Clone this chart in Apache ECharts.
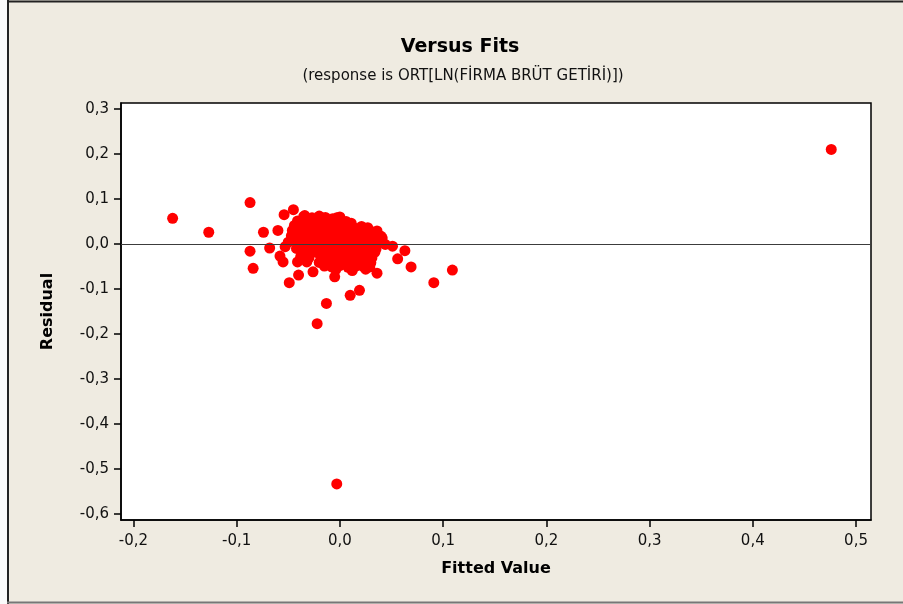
<!DOCTYPE html>
<html>
<head>
<meta charset="utf-8">
<script src="https://cdn.jsdelivr.net/npm/echarts@6/dist/echarts.min.js"></script>
<style>
  html, body { margin: 0; padding: 0; background: #ffffff; }
  #chart { width: 903px; height: 604px; }
</style>
</head>
<body>
<div id="chart"></div>
<script>
// Fitted values of the regression (x) and their residuals (y)
const fitted = [
  -0.162, -0.127, -0.087, -0.087, -0.084, -0.074, -0.068, -0.060, -0.058, -0.055,
  -0.053, -0.049, -0.040, -0.026, -0.022, -0.013, -0.005, 0.010, 0.019, 0.036,
  0.051, 0.063, 0.056, 0.069, 0.091, 0.109, -0.054, -0.045, -0.003, 0.476,
  0.039, -0.034, -0.003, 0.006, 0.027, 0.036, 0.041, -0.041, -0.047, -0.050,
  // dense cloud around zero
  -0.035, -0.027, -0.020, -0.014, -0.007, 0.000,
  -0.041, -0.031, -0.025, -0.017, -0.011, -0.002, 0.004, 0.011,
  -0.044, -0.037, -0.029, -0.021, -0.016, -0.008, -0.001, 0.007, 0.013, 0.021,
  -0.046, -0.039, -0.030, -0.024, -0.016, -0.011, -0.004, 0.005, 0.010, 0.018, 0.026, 0.031,
  -0.043, -0.035, -0.029, -0.021, -0.015, -0.007, -0.001, 0.006, 0.014, 0.019, 0.028, 0.033, 0.040,
  -0.045, -0.037, -0.032, -0.024, -0.018, -0.009, -0.003, 0.004, 0.012, 0.017, 0.025, 0.031, 0.038,
  -0.040, -0.033, -0.026, -0.019, -0.012, -0.006, 0.002, 0.009, 0.016, 0.023, 0.030, 0.036, 0.044,
  -0.042, -0.035, -0.027, -0.021, -0.014, -0.007, 0.001, 0.008, 0.014, 0.021, 0.028, 0.035,
  -0.036, -0.029, -0.022, -0.015, -0.009, -0.001, 0.006, 0.013, 0.020, 0.027, 0.034,
  -0.038, -0.030, -0.018, -0.011, -0.004, 0.003, 0.010, 0.017, 0.024, 0.031,
  -0.032, -0.020, -0.012, -0.005, 0.002, 0.009, 0.016, 0.023, 0.030,
  -0.015, -0.008, 0.000, 0.008, 0.015, 0.022, 0.029,
  -0.004, 0.012, 0.025
];
const residual = [
  0.057, 0.026, 0.092, -0.016, -0.054, 0.026, -0.009, 0.030, -0.027, -0.040,
  -0.006, -0.086, -0.069, -0.062, -0.177, -0.132, -0.073, -0.114, -0.103, -0.065,
  -0.005, -0.015, -0.033, -0.051, -0.086, -0.058, 0.065, 0.076, -0.533, 0.210,
  0.016, 0.063, 0.058, 0.050, 0.036, 0.029, 0.013, -0.040, 0.018, 0.004,
  0.061, 0.058, 0.062, 0.059, 0.056, 0.060,
  0.051, 0.049, 0.053, 0.050, 0.047, 0.052, 0.048, 0.046,
  0.041, 0.039, 0.042, 0.040, 0.043, 0.038, 0.041, 0.040, 0.037, 0.039,
  0.030, 0.032, 0.029, 0.031, 0.028, 0.030, 0.033, 0.029, 0.031, 0.028, 0.030, 0.027,
  0.021, 0.019, 0.022, 0.020, 0.018, 0.021, 0.019, 0.022, 0.020, 0.018, 0.021, 0.019, 0.017,
  0.010, 0.011, 0.009, 0.012, 0.010, 0.008, 0.011, 0.009, 0.012, 0.010, 0.008, 0.011, 0.009,
  0.001, -0.001, 0.002, 0.000, -0.002, 0.001, 0.000, -0.001, 0.002, 0.000, -0.002, 0.001, -0.001,
  -0.010, -0.012, -0.009, -0.011, -0.010, -0.008, -0.011, -0.009, -0.012, -0.010, -0.008, -0.011,
  -0.020, -0.022, -0.019, -0.021, -0.018, -0.020, -0.022, -0.019, -0.021, -0.020, -0.018,
  -0.029, -0.031, -0.030, -0.028, -0.032, -0.029, -0.031, -0.030, -0.028, -0.031,
  -0.040, -0.041, -0.038, -0.042, -0.039, -0.041, -0.040, -0.038, -0.042,
  -0.049, -0.051, -0.048, -0.052, -0.050, -0.049, -0.051,
  -0.057, -0.059, -0.056
];
const xTicks = [-0.2, -0.1, 0.0, 0.1, 0.2, 0.3, 0.4, 0.5];
const yTicks = [-0.6, -0.5, -0.4, -0.3, -0.2, -0.1, 0.0, 0.1, 0.2, 0.3];

const points = fitted.map((x, i) => [x, residual[i]]);
const fmt = v => (Math.abs(v) < 1e-9 ? 0 : v).toFixed(1).replace('.', ',');
const FONT = 'DejaVu Sans';

const chart = echarts.init(document.getElementById('chart'), null, { renderer: 'canvas' });
chart.setOption({
  backgroundColor: '#efebe1',
  animation: false,
  title: [
    {
      text: 'Versus Fits',
      left: 455, top: 33, textAlign: 'center',
      textStyle: { fontFamily: FONT, fontSize: 19, fontWeight: 'bold', color: '#000' }
    },
    {
      text: '(response is ORT[LN(FİRMA BRÜT GETİRİ)])',
      left: 458, top: 64, textAlign: 'center',
      textStyle: { fontFamily: FONT, fontSize: 15, fontWeight: 'normal', color: '#111' }
    }
  ],
  grid: {
    left: 121, right: 32, top: 103, bottom: 84,
    show: true, backgroundColor: '#ffffff',
    borderColor: '#000', borderWidth: 1.5
  },
  xAxis: {
    type: 'value', min: -0.212, max: 0.5145,
    name: 'Fitted Value', nameLocation: 'middle', nameGap: 41,
    nameTextStyle: { fontFamily: FONT, fontSize: 16, fontWeight: 'bold', color: '#000' },
    splitLine: { show: false },
    axisLine: { show: true, onZero: false, lineStyle: { color: '#000', width: 1.5 } },
    axisTick: { show: true, inside: false, length: 7, customValues: xTicks, lineStyle: { color: '#000', width: 1.5 } },
    axisLabel: {
      customValues: xTicks, formatter: fmt, margin: 14,
      fontFamily: FONT, fontSize: 15, color: '#111'
    }
  },
  yAxis: {
    type: 'value', min: -0.613, max: 0.313,
    name: 'Residual', nameLocation: 'middle', nameGap: 65, nameRotate: 90,
    nameTextStyle: { fontFamily: FONT, fontSize: 16, fontWeight: 'bold', color: '#000' },
    splitLine: { show: false },
    axisLine: { show: true, onZero: false, lineStyle: { color: '#000', width: 1.5 } },
    axisTick: { show: true, inside: false, length: 7, customValues: yTicks, lineStyle: { color: '#000', width: 1.5 } },
    axisLabel: {
      customValues: yTicks, formatter: fmt, margin: 12,
      fontFamily: FONT, fontSize: 15, color: '#111'
    }
  },
  series: [{
    type: 'scatter',
    data: points,
    symbol: 'circle',
    symbolSize: 11,
    itemStyle: { color: '#ff0000', opacity: 1 },
    markLine: {
      silent: true, symbol: 'none', label: { show: false },
      lineStyle: { color: '#3c3c3c', width: 1, type: 'solid' },
      data: [{ yAxis: 0 }]
    },
    z: 3
  }],
  graphic: [
    { type: 'rect', shape: { x: 0, y: 0, width: 7, height: 604 }, style: { fill: '#fafafa' }, silent: true },
    { type: 'line', shape: { x1: 7, y1: 1.5, x2: 903, y2: 1.5 }, style: { stroke: '#222', lineWidth: 2 }, silent: true },
    { type: 'line', shape: { x1: 8, y1: 0, x2: 8, y2: 604 }, style: { stroke: '#222', lineWidth: 2 }, silent: true },
    { type: 'line', shape: { x1: 7, y1: 602.5, x2: 903, y2: 602.5 }, style: { stroke: '#777', lineWidth: 2 }, silent: true }
  ]
});
</script>
</body>
</html>
